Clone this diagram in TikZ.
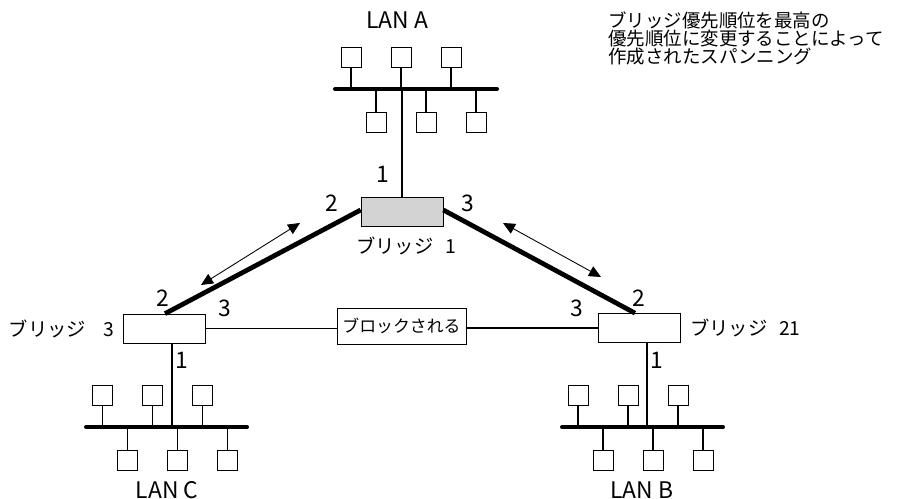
\documentclass[tikz,border=0pt]{standalone}
\usepackage{fontspec}
\setmainfont{Noto Sans CJK JP}
\usepackage{tikz}
\usetikzlibrary{arrows.meta,positioning}
\definecolor{bridgefill}{RGB}{211,211,211}

\begin{document}
\begin{tikzpicture}[x=0.02cm,y=-0.02cm,
        station/.style={draw,minimum size=0.4cm,inner sep=0},
        bridge/.style={draw,minimum width=1.64cm,minimum height=0.58cm,inner sep=0},
        bus/.style={line width=2.3pt,line cap=round},
        trunk/.style={line width=2.7pt},
        link/.style={line width=0.6pt},
        dir/.style={{Triangle[length=0.24cm,width=0.22cm]}-{Triangle[length=0.24cm,width=0.22cm]},line width=0.5pt},
        num/.style={font=\fontsize{13}{13}\selectfont,inner sep=0},
        jp/.style={font=\fontsize{11}{11}\selectfont,inner sep=0}]
        \useasboundingbox (0,0) rectangle (897,499);

        % LAN A
        \coordinate (busA) at (335,89);
        \draw[bus] (busA) -- (497,89);
        \foreach \i/\x in {1/351,2/401,3/451} {
            \node[station] (au\i) at (\x,57) {};
            \draw[link] (au\i) -- (au\i |- busA);
        }
        \foreach \i/\x in {1/376,2/426,3/476} {
            \node[station] (ad\i) at (\x,122) {};
            \draw[link] (ad\i) -- (ad\i |- busA);
        }
        \node[num] (lanA) at (397,20) {LAN A};

        % LAN C
        \coordinate (busC) at (86,427);
        \draw[bus] (busC) -- (247,427);
        \foreach \i/\x in {1/102.5,2/152.5,3/202.5} {
            \node[station] (cu\i) at (\x,395) {};
            \draw[link] (cu\i) -- (cu\i |- busC);
        }
        \foreach \i/\x in {1/127.5,2/177.5,3/227.5} {
            \node[station] (cd\i) at (\x,460) {};
            \draw[link] (cd\i) -- (cd\i |- busC);
        }
        \node[num] (lanC) at (167,490) {LAN C};

        % LAN B
        \coordinate (busB) at (562,427);
        \draw[bus] (busB) -- (723,427);
        \foreach \i/\x in {1/578,2/628,3/678} {
            \node[station] (bu\i) at (\x,395) {};
            \draw[link] (bu\i) -- (bu\i |- busB);
        }
        \foreach \i/\x in {1/603,2/653,3/703} {
            \node[station] (bd\i) at (\x,460) {};
            \draw[link] (bd\i) -- (bd\i |- busB);
        }
        \node[num] (lanB) at (642,490) {LAN B};

        % bridges
        \node[bridge,fill=bridgefill] (b1) at (402,212) {};
        \node[bridge] (b3) at (164,328.5) {};
        \node[bridge] (b21) at (639.5,328) {};
        \node[draw,minimum width=2.58cm,minimum height=0.72cm,inner sep=0,
              font=\fontsize{9.6}{9.6}\selectfont] (blk) at (401.5,326) {ブロックされる};

        \node[jp] (nb1) at (406,246) {ブリッジ\hspace{0.6em}1};
        \node[jp,left=0.16cm of b3] (nb3) {ブリッジ\hspace{0.9em}3};
        \node[jp,right=0.18cm of b21] (nb21) {ブリッジ\hspace{0.6em}21};

        \draw[link] (b1.north) -- (b1.north |- busA);
        \draw[link] ([xshift=0.16cm]b3.south) -- ([xshift=0.16cm]b3.south |- busC);
        \draw[link] ([xshift=0.15cm]b21.south) -- ([xshift=0.15cm]b21.south |- busB);

        \draw[link] (b3.east) -- (b3.east -| blk.west);
        \draw[link] (blk.east) -- (blk.east |- b21.west) -- (b21.west);

        \draw[trunk] ([yshift=0.04cm]b1.west) -- ([xshift=0.02cm]b3.north);
        \draw[trunk] ([yshift=0.04cm]b1.east) -- ([xshift=-0.09cm]b21.north);

        % direction arrows
        \coordinate (l1) at (300,223);
        \coordinate (l2) at (201,285);
        \coordinate (r1) at (503,223);
        \coordinate (r2) at (601,277);
        \draw[dir] (l1) -- (l2);
        \draw[dir] (r1) -- (r2);

        % port numbers
        \node[num] (p11) at (383,174) {1};
        \node[num] (p12) at (332,203) {2};
        \node[num] (p13) at (468,203) {3};
        \node[num] (p32) at (163,298) {2};
        \node[num] (p33) at (225,308) {3};
        \node[num] (p31) at (182,360) {1};
        \node[num] (p212) at (639,298) {2};
        \node[num] (p213) at (577,308) {3};
        \node[num] (p211) at (657,360) {1};

        \node[anchor=north west,align=left,inner sep=0,
              font=\fontsize{10.5}{10.3}\selectfont] (title) at (608,11)
              {ブリッジ優先順位を最高の\\優先順位に変更することによって\\作成されたスパンニング};
    \end{tikzpicture}
\end{document}
